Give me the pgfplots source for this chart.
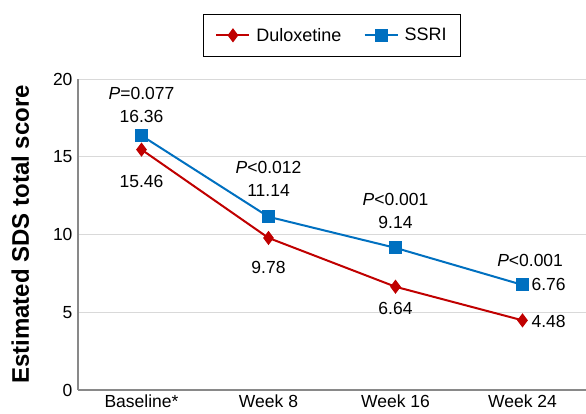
\documentclass[border=0pt]{standalone}
\usepackage{pgfplots}
\pgfplotsset{compat=1.18}
\usepackage{fontspec}
\setmainfont{Liberation Sans}

\definecolor{dulred}{HTML}{C00000}
\definecolor{ssriblue}{HTML}{0070C0}
\definecolor{gridgray}{HTML}{D9D9D9}
\definecolor{spinegray}{HTML}{898989}

\newcommand{\lbl}{\fontsize{17.5}{21}\selectfont}

\begin{document}
\begin{tikzpicture}
\begin{axis}[
    name=main,
    scale only axis,
    width=508pt, height=311pt,
    xmin=-0.5, xmax=3.5,
    ymin=0, ymax=20,
    xtick={0,1,2,3},
    xticklabels={Baseline*, Week 8, Week 16, Week 24},
    ytick={0,5,10,15,20},
    axis lines*=left,
    axis line style={spinegray, line width=1.2pt},
    major tick length=0pt,
    ymajorgrids=true,
    grid style={gridgray, line width=0.9pt},
    tick label style={font=\lbl},
    yticklabel style={xshift=-2pt},
    xticklabel style={yshift=-1pt},
    /pgf/number format/assume math mode=true,
    ylabel={Estimated SDS total score},
    ylabel style={font=\fontsize{24}{28}\selectfont\bfseries,
        at={(axis description cs:-0.0965,0.5)}, anchor=base},
    legend columns=2,
    legend style={at={(0.5,1)}, anchor=south, yshift=22pt,
        font=\fontsize{18}{21}\selectfont, draw=black, line width=0.8pt,
        column sep=4pt, inner xsep=12pt, inner ysep=12pt,
        /tikz/every even column/.append style={column sep=20pt}},
    legend image code/.code={%
        \draw[mark repeat=2, mark phase=2, #1]
        plot coordinates {(0cm,0cm) (0.58cm,0cm) (1.16cm,0cm)};},
    legend cell align=left,
    clip=false,
]
\addplot[dulred, line width=2pt, mark=diamond*, mark size=5.5pt, mark options={solid, fill=dulred}]
    coordinates {(0,15.46) (1,9.78) (2,6.64) (3,4.48)};
\addplot[ssriblue, line width=2pt, mark=square*, mark size=5.5pt, mark options={solid, fill=ssriblue}]
    coordinates {(0,16.36) (1,11.14) (2,9.14) (3,6.76)};
\legend{Duloxetine, SSRI}

\begin{scope}[every node/.style={font=\lbl}]
\node at (axis cs:0,19.08) {\textit{P}=0.077};
\node at (axis cs:0,17.58) {16.36};
\node at (axis cs:0,13.4) {15.46};
\node at (axis cs:1,14.28) {\textit{P}<0.012};
\node at (axis cs:1,12.86) {11.14};
\node at (axis cs:1,7.85) {9.78};
\node at (axis cs:2,12.28) {\textit{P}<0.001};
\node at (axis cs:2,10.8) {9.14};
\node at (axis cs:2,5.27) {6.64};
\node at (axis cs:3.06,8.32) {\textit{P}<0.001};
\node[anchor=west, inner sep=0pt] at (axis cs:3.07,6.76) {6.76};
\node[anchor=west, inner sep=0pt] at (axis cs:3.07,4.39) {4.48};
\end{scope}
\end{axis}
\pgfresetboundingbox
\path[use as bounding box] ([xshift=-78pt,yshift=-23pt]main.south west)
    rectangle ([yshift=79pt]main.north east);
\end{tikzpicture}
\end{document}
